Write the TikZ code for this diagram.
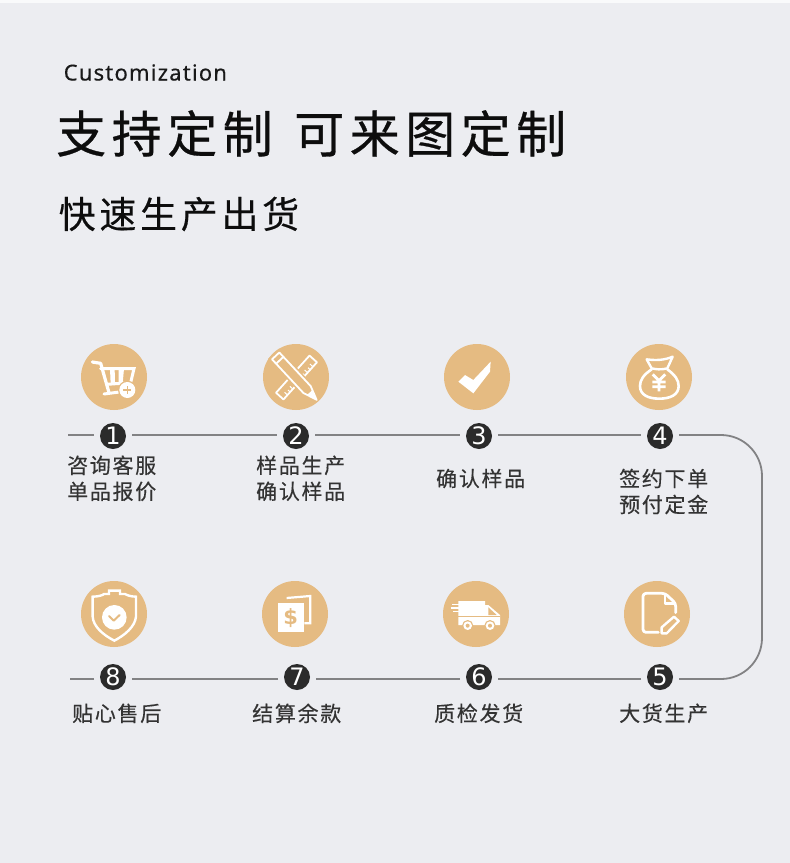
\documentclass[tikz,border=0pt]{standalone}
\usepackage{fontspec}
\setmainfont{Noto Sans}
\newfontfamily\cjktitle[LetterSpace=11,FakeBold=0.6]{Noto Sans CJK SC}
\newfontfamily\cjksub[LetterSpace=10,FakeBold=0.4]{Noto Sans CJK SC}
\newfontfamily\cjklabel[LetterSpace=8,FakeBold=0.3]{Noto Sans CJK SC}
\newfontfamily\latinhead[LetterSpace=5.5,FakeBold=0.3]{Noto Sans}
\newfontfamily\digitfont{DejaVu Sans}
\definecolor{pagebg}{HTML}{ECEDF1}
\definecolor{tan}{HTML}{E5BB82}
\definecolor{inkdark}{HTML}{2B2B2B}
\definecolor{textgray}{HTML}{333333}
\definecolor{linegray}{HTML}{828284}
\tikzset{
  iconbg/.style={circle,fill=tan,minimum size=66pt,inner sep=0pt},
  numdot/.style={circle,fill=inkdark,text=white,minimum size=26pt,inner sep=0pt,outer sep=6pt,font=\digitfont\fontsize{24}{24}\selectfont},
  steplabel/.style={anchor=west,inner sep=0pt,align=left,text=textgray,font=\cjklabel\fontsize{21}{26}\selectfont},
  flowline/.style={draw=linegray,line width=1.8pt},
  iconline/.style={draw=white,line width=2pt,line join=round,line cap=round},
}
\begin{document}
\begin{tikzpicture}[x=1pt,y=-1pt]
\useasboundingbox (0,0) rectangle (790,863);
\fill[white!70!pagebg] (0,0) rectangle (790,3);
\fill[pagebg] (0,3) rectangle (790,863);

% headings
\node[anchor=west,inner sep=0pt,text=black!90,font=\latinhead\fontsize{22}{26}\selectfont] (head) at (63.5,72.5) {Customization};
\node[anchor=west,inner sep=0pt,text=black!95,font=\cjktitle\fontsize{50}{56}\selectfont] (titleA) at (56,133.5) {支持定制};
\node[anchor=west,inner sep=0pt,text=black!95,font=\cjktitle\fontsize{50}{56}\selectfont] (titleB) at (294,133.5) {可来图定制};
\node[anchor=west,inner sep=0pt,text=black!95,font=\cjksub\fontsize{37}{42}\selectfont] (sub) at (58.5,214) {快速生产出货};

% icon discs
\node[iconbg] (i1) at (114,377) {};
\node[iconbg] (i2) at (296,377) {};
\node[iconbg] (i3) at (477,377) {};
\node[iconbg] (i4) at (659,377) {};
\node[iconbg] (i8) at (114,614) {};
\node[iconbg] (i7) at (295,614) {};
\node[iconbg] (i6) at (476,614) {};
\node[iconbg] (i5) at (657,614) {};

% number dots
\node[numdot] (n1) at (113,436) {1};
\node[numdot] (n2) at (296,436) {2};
\node[numdot] (n3) at (479,436) {3};
\node[numdot] (n4) at (660,436) {4};
\node[numdot] (n5) at (660,677) {5};
\node[numdot] (n6) at (479,677) {6};
\node[numdot] (n7) at (297,677) {7};
\node[numdot] (n8) at (113,677) {8};

% connectors
\coordinate (s1) at (68,435);
\coordinate (s8) at (70,679);
\coordinate (c1) at (762,435);
\coordinate (c2) at (762,679);
\path (n1.east |- s1) coordinate (e1) (n2.west |- s1) coordinate (w2) (n2.east |- s1) coordinate (e2)
      (n3.west |- s1) coordinate (w3) (n3.east |- s1) coordinate (e3) (n4.west |- s1) coordinate (w4)
      (n4.east |- s1) coordinate (e4) (n1.west |- s1) coordinate (w1)
      (n5.east |- s8) coordinate (e5) (n5.west |- s8) coordinate (w5) (n6.east |- s8) coordinate (e6)
      (n6.west |- s8) coordinate (w6) (n7.east |- s8) coordinate (e7) (n7.west |- s8) coordinate (w7)
      (n8.east |- s8) coordinate (e8) (n8.west |- s8) coordinate (w8);
\draw[flowline] (s1) -- (w1);
\draw[flowline] (e1) -- (w2);
\draw[flowline] (e2) -- (w3);
\draw[flowline] (e3) -- (w4);
\draw[flowline,rounded corners=41pt] (e4) -- (c1) -- (c2) -- (e5);
\draw[flowline] (w5) -- (e6);
\draw[flowline] (w6) -- (e7);
\draw[flowline] (w7) -- (e8);
\draw[flowline] (w8) -- (s8);

% labels
\node[steplabel] (t1) at (67,478.3) {咨询客服\\单品报价};
\node[steplabel] (t2) at (256,478.3) {样品生产\\确认样品};
\node[steplabel] (t3) at (436,478.5) {确认样品};
\node[steplabel] (t4) at (619,491.5) {签约下单\\预付定金};
\node[steplabel] (t5) at (619,713.3) {大货生产};
\node[steplabel] (t6) at (434,713.3) {质检发货};
\node[steplabel] (t7) at (252,713.3) {结算余款};
\node[steplabel] (t8) at (72,713.3) {贴心售后};

% icon 1: cart
\begin{scope}[shift={(60,330)},x=.33333pt,y=-.33333pt]
  \draw[iconline,line width=3.2pt] (97,96) -- (122,100) -- (147,188);
  \draw[iconline,line width=3pt] (132,192) -- (178,186);
  \draw[iconline,line width=3pt,line join=miter] (122,116) -- (222,116) -- (212,158) -- (140,163);
  \fill[white] (150,116) -- (164,116) -- (165,162) -- (152,162) -- cycle;
  \fill[white] (176,116) -- (192,116) -- (188,160) -- (176,160) -- cycle;
  \fill[tan] (202,180) circle (28);
  \fill[white] (202,180) circle (24);
  \draw[tan,line width=1.2pt] (190,180) -- (214,180) (202,168) -- (202,192);
\end{scope}

% icon 2: ruler and pencil
\begin{scope}[shift={(296.5,377.5)},rotate=-42]
  \draw[white,line width=1.8pt,line join=round] (-5,-25) rectangle (5,25);
  \foreach \yy/\ll in {-19/4,-15/3,-11/4,-7/3,7/3,11/4,15/3,19/4}
    \draw[white,line width=1pt] (5,\yy) -- ++(-\ll,0);
\end{scope}
\begin{scope}[shift={(296.5,377.5)},rotate=-47]
  \draw[tan,line width=6pt] (-30,-4) rectangle (14,5);
  \fill[tan] (-30,-4) rectangle (14,5);
  \draw[white,line width=1.8pt,line join=round] (-30,-4.5) -- (16,-4.5) -- (30,0.5) -- (16,5.5) -- (-30,5.5) -- cycle;
  \draw[white,line width=1.8pt] (-24,-4.5) -- (-24,5.5);
  \fill[white] (20,-3) -- (31,0.5) -- (20,4) -- cycle;
\end{scope}

% icon 3: check
\begin{scope}[shift={(420,330)},x=.33333pt,y=-.33333pt]
  \fill[white] (115,155) -- (135,135) -- (160,150) -- (212,95) -- (210,125) -- (160,190) -- cycle;
\end{scope}

% icon 4: money bag
\begin{scope}[shift={(420,330)},x=.33333pt,y=-.33333pt]
  \draw[iconline,line width=2.4pt] (680,88) .. controls (710,92) and (735,90) .. (758,80) -- (742,115) .. controls (720,120) and (710,118) .. (695,115) -- cycle;
  \draw[iconline,line width=2.6pt] (695,118) .. controls (670,135) and (660,150) .. (660,168) .. controls (660,195) and (685,206) .. (718,206) .. controls (750,206) and (776,195) .. (776,168) .. controls (776,150) and (765,135) .. (742,118);
  \draw[white,line width=2.8pt] (698,133) -- (717,152) -- (736,133) (717,152) -- (717,184) (697,156) -- (737,156) (697,170) -- (737,170);
\end{scope}

% icon 5: document
\begin{scope}[shift={(420,570)},x=.33333pt,y=-.33333pt]
  \draw[iconline,line width=2.8pt,rounded corners=3pt] (715,187) -- (669,187) -- (669,70) -- (735,70) -- (767,100) -- (767,128);
  \draw[iconline,line width=2.4pt] (735,72) -- (735,100) -- (765,100);
  \draw[iconline,line width=2.4pt] (725,172) -- (762,140) -- (776,153) -- (740,190) -- (725,190) -- cycle;
\end{scope}

% icon 6: truck
\begin{scope}[shift={(420,570)},x=.33333pt,y=-.33333pt]
  \fill[white] (115,93) -- (195,93) -- (195,105) -- (205,105) -- (240,135) -- (240,165) -- (115,165) -- cycle;
  \fill[tan] (205,112) -- (230,135) -- (205,135) -- cycle;
  \fill[tan] (113,139) rectangle (240,142);
  \draw[white,line width=1.2pt] (97,104) -- (130,104) (92,114) -- (130,114) (100,124) -- (130,124);
  \fill[tan] (143,167) circle (17) (210,167) circle (17);
  \fill[white] (143,167) circle (13) (210,167) circle (13);
  \fill[tan] (143,167) circle (6) (210,167) circle (6);
\end{scope}

% icon 7: bill
\begin{scope}[shift={(60,570)},x=.33333pt,y=-.33333pt]
  \draw[white,line width=2.2pt,line join=miter] (680,84) -- (751,78) -- (751,160) -- (733,160);
  \fill[white] (655,98) rectangle (731,185);
  \node[text=tan,inner sep=0pt,font=\digitfont\bfseries\fontsize{21}{21}\selectfont] (dollar) at (692,143) {\$};
\end{scope}

% icon 8: shield
\begin{scope}[shift={(60,570)},x=.33333pt,y=-.33333pt]
  \draw[iconline,line width=2.4pt,line join=miter] (98,80) .. controls (115,80) and (130,75) .. (132,72) -- (147,72) -- (147,62) -- (180,62) -- (180,72) -- (195,72) .. controls (200,75) and (212,80) .. (228,80) -- (228,140) .. controls (225,170) and (195,195) .. (163,212) .. controls (130,195) and (100,170) .. (98,140) -- cycle;
  \fill[white] (163,142) circle (37);
  \draw[tan,line width=2pt,line cap=round,line join=round] (147,138) -- (161,152) -- (179,135);
\end{scope}
\end{tikzpicture}
\end{document}
